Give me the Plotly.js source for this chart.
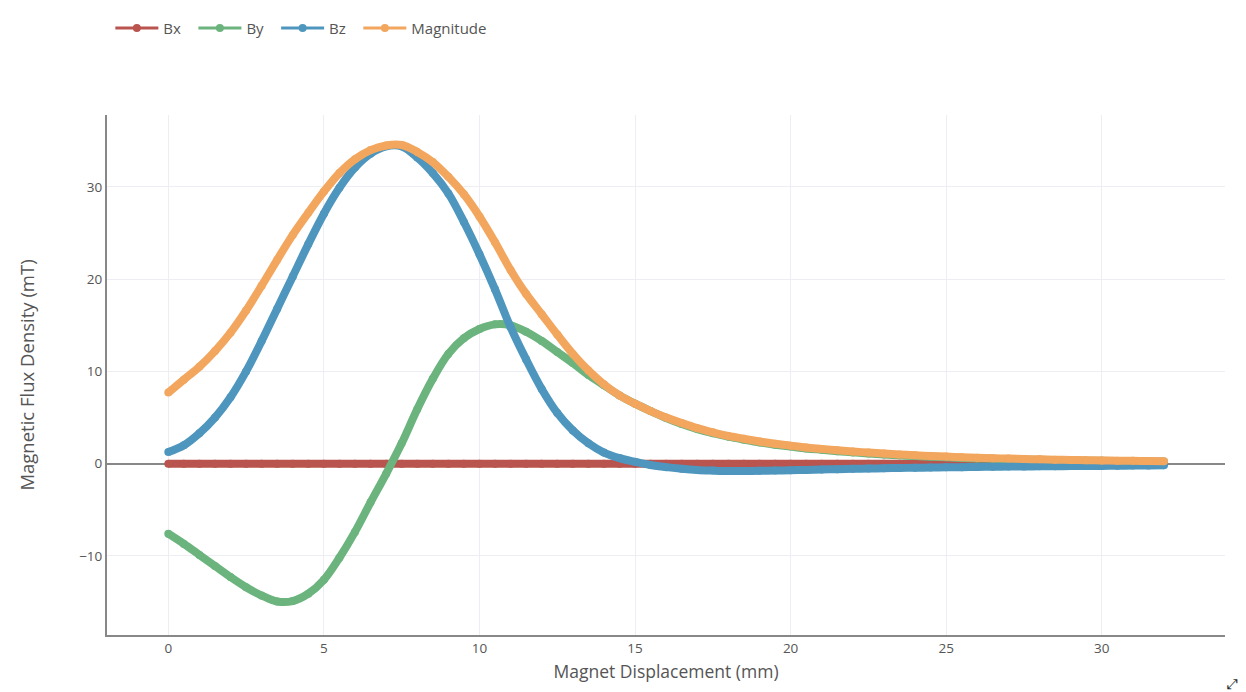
<!DOCTYPE html>
<html>
<head>
<meta charset="utf-8">
<script src="https://cdn.plot.ly/plotly-3.0.1.min.js"></script>
<style>
html,body{margin:0;padding:0;background:#ffffff;}
#chart{width:1246px;height:692px;}
</style>
</head>
<body>
<div id="chart"></div>
<script>
// Magnet displacement (mm)
const displacement = [0,0.5,1,1.5,2,2.5,3,3.5,4,4.5,5,5.5,6,6.5,7,7.5,8,8.5,9,9.5,10,10.5,11,11.5,12,12.5,13,13.5,14,14.5,15,15.5,16,16.5,17,17.5,18,18.5,19,19.5,20,20.5,21,21.5,22,22.5,23,23.5,24,24.5,25,25.5,26,26.5,27,27.5,28,28.5,29,29.5,30,30.5,31,31.5,32];

const bx = [0,0,0,0,0,0,0,0,0,0,0,0,0,0,0,0,0,0,0,0,0,0,0,0,0,0,0,0,0,0,0,0,0,0,0,0,0,0,0,0,0,0,0,0,0,0,0,0,0,0,0,0,0,0,0,0,0,0,0,0,0,0,0,0,0];

const by = [-7.6,-8.7,-9.9,-11.1,-12.3,-13.4,-14.3,-14.95,-14.9,-14.1,-12.6,-10.2,-7.4,-4.2,-1.1,2.2,5.9,9.2,11.9,13.6,14.6,15.1,15.0,14.3,13.3,12.1,10.9,9.6,8.5,7.4,6.5,5.7,4.95,4.3,3.75,3.3,2.92,2.6,2.3,2.05,1.85,1.65,1.5,1.35,1.22,1.1,1.0,0.9,0.82,0.75,0.68,0.62,0.57,0.52,0.48,0.44,0.41,0.38,0.35,0.32,0.3,0.28,0.26,0.24,0.22];

const bz = [1.26,2.0,3.3,5.0,7.2,10.0,13.3,16.8,20.3,23.8,27.1,29.9,32.1,33.6,34.4,34.4,33.2,31.5,29.3,26.2,22.7,18.9,14.8,11.3,8.1,5.5,3.6,2.2,1.2,0.6,0.2,-0.15,-0.38,-0.55,-0.68,-0.75,-0.8,-0.8,-0.78,-0.75,-0.72,-0.68,-0.64,-0.6,-0.56,-0.53,-0.5,-0.47,-0.45,-0.42,-0.4,-0.38,-0.36,-0.34,-0.32,-0.31,-0.29,-0.28,-0.27,-0.26,-0.25,-0.23,-0.21,-0.2,-0.18];

const magnitude = [7.7,9.1,10.5,12.2,14.2,16.6,19.3,22.1,24.8,27.2,29.5,31.5,33.0,34.0,34.5,34.55,33.8,32.7,31.1,29.2,26.8,24.0,21.0,18.4,16.2,14.0,11.9,10.1,8.6,7.4,6.5,5.7,5.0,4.4,3.85,3.4,3.0,2.7,2.4,2.15,1.95,1.75,1.6,1.45,1.32,1.2,1.1,1.0,0.91,0.83,0.76,0.7,0.64,0.59,0.55,0.5,0.47,0.43,0.4,0.37,0.35,0.32,0.3,0.28,0.26];

const seriesNames = ["Bx","By","Bz","Magnitude"];
const seriesValues = [bx, by, bz, magnitude];
const seriesColors = ["#b9544f","#6cb47e","#4e96be","#f2a65e"];

const traces = [];
seriesNames.forEach((name, i) => {
  // thick band drawn through the readings
  traces.push({
    type: "scatter", mode: "lines", name: name, showlegend: false, hoverinfo: "skip",
    x: displacement, y: seriesValues[i],
    line: {color: seriesColors[i], width: 8, shape: "spline", smoothing: 1}
  });
  // the readings as markers (also gives the legend entry)
  traces.push({
    type: "scatter", mode: "lines+markers",
    name: name.length < 4 ? name + "\u2002" : name,
    x: displacement, y: seriesValues[i],
    line: {color: seriesColors[i], width: 3, shape: "spline", smoothing: 1},
    marker: {color: seriesColors[i], size: 8}
  });
});

const layout = {
  width: 1246,
  height: 692,
  paper_bgcolor: "#ffffff",
  plot_bgcolor: "#ffffff",
  font: {family: "Open Sans, sans-serif", color: "#555555", size: 13.5},
  margin: {l: 107, r: 21, t: 112, b: 57},
  showlegend: true,
  legend: {
    orientation: "h",
    x: 0.003, xanchor: "left",
    y: 1.167, yanchor: "middle",
    font: {size: 15, color: "#555555"},
    itemwidth: 43
  },
  xaxis: {
    title: {text: "Magnet Displacement (mm)", font: {size: 17.5, color: "#555555"}, standoff: 10},
    range: [-1.97, 33.96],
    tickvals: [0,5,10,15,20,25,30],
    showline: true, linecolor: "#888888", linewidth: 2,
    showgrid: true, gridcolor: "#eceef3", gridwidth: 1,
    zeroline: false,
    ticks: "",
    tickfont: {size: 13.5, color: "#555555"}
  },
  yaxis: {
    title: {text: "Magnetic Flux Density (mT)", font: {size: 18.5, color: "#555555"}, standoff: 40},
    range: [-18.58, 37.8],
    tickvals: [-10,0,10,20,30],
    ticktext: ["−10","0","10","20","30"],
    showline: true, linecolor: "#888888", linewidth: 2,
    showgrid: true, gridcolor: "#eceef3", gridwidth: 1,
    zeroline: true, zerolinecolor: "#888888", zerolinewidth: 2,
    ticks: "",
    tickfont: {size: 13.5, color: "#555555"}
  },
  annotations: [{
    text: "⤢", xref: "paper", yref: "paper", x: 1.0, y: -0.095,
    xanchor: "left", yanchor: "middle", showarrow: false,
    font: {size: 14, color: "#222222", family: "DejaVu Sans"}
  }]
};

Plotly.newPlot("chart", traces, layout, {displayModeBar: false, responsive: false});
</script>
</body>
</html>
